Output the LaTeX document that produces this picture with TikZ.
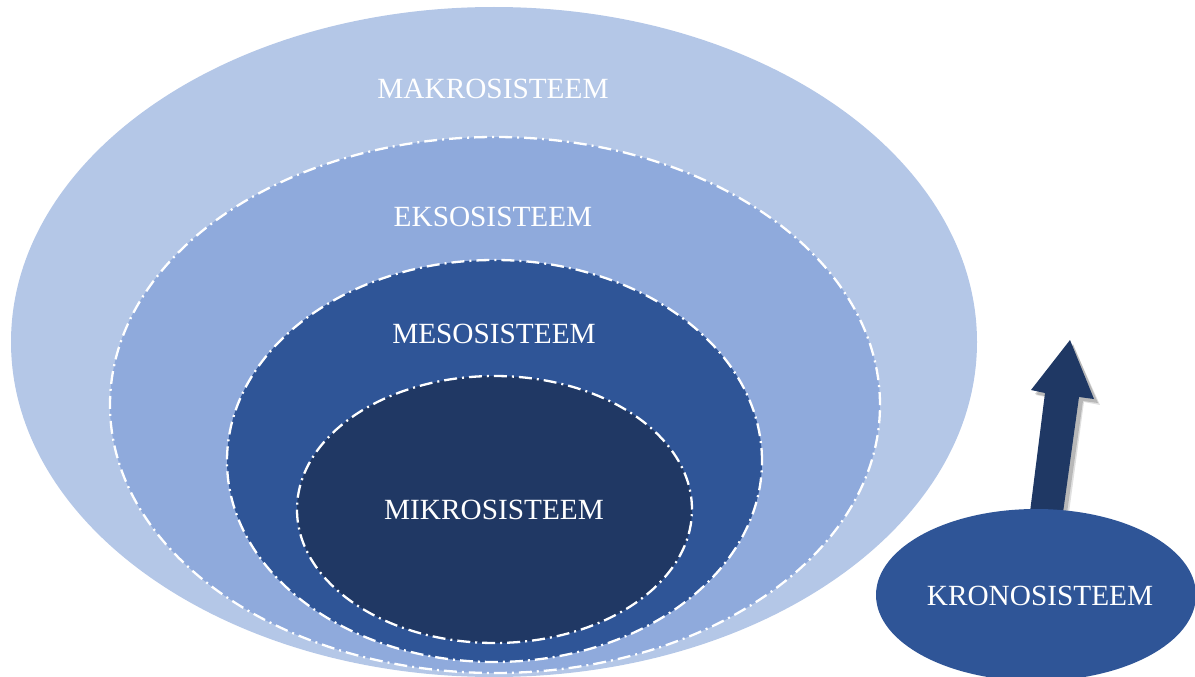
\documentclass[tikz,border=0pt]{standalone}
\usepackage{fontspec}
\setmainfont{Liberation Serif}
\usetikzlibrary{shapes.geometric}
\definecolor{cMakro}{HTML}{B4C7E7}
\definecolor{cEkso}{HTML}{8FAADC}
\definecolor{cMeso}{HTML}{2F5597}
\definecolor{cMikro}{HTML}{203864}
\definecolor{cArrow}{HTML}{1F3864}
\tikzset{
  ring/.style={ellipse, inner sep=0pt, draw=none},
  ringline/.style={draw=white, line width=2.3pt, dash pattern=on 13pt off 5pt on 2pt off 5pt},
  lbl/.style={text=white, font=\fontsize{29.3}{31}\selectfont, inner sep=0pt, anchor=center}
}
\begin{document}
\begin{tikzpicture}[x=1pt, y=-1pt]
\useasboundingbox (0,0) rectangle (1195,677);
\clip (0,0) rectangle (1195,677);
% rings
\node[ring, fill=cMakro, minimum width=966pt, minimum height=670pt] (makro) at (494,342) {};
\node[ring, fill=cEkso, ringline, minimum width=770pt, minimum height=536pt] (ekso) at (495,405) {};
\node[ring, fill=cMeso, ringline, minimum width=535pt, minimum height=402pt] (meso) at (494.5,461) {};
\node[ring, fill=cMikro, ringline, minimum width=395pt, minimum height=267pt] (mikro) at (494.5,509.5) {};
% labels
\node[lbl] (tmakro) at (493,89) {MAKROSISTEEM};
\node[lbl] (tekso) at (493,217) {EKSOSISTEEM};
\node[lbl] (tmeso) at (494,334) {MESOSISTEEM};
\node[lbl] (tmikro) at (494,510) {MIKROSISTEEM};
% arrow shadow
\fill[black, opacity=0.18] (1033,520) -- (1049,397) -- (1035,394) -- (1073,344) -- (1098,403) -- (1083,401) -- (1066,520) -- cycle;
\fill[black, opacity=0.12] (1034,520) -- (1050,398) -- (1036,395) -- (1073,345) -- (1100,405) -- (1084,402) -- (1068,520) -- cycle;
% arrow
\fill[cArrow] (1029,520) -- (1045,393) -- (1031,390) -- (1070,340) -- (1094,399) -- (1079,397) -- (1062,520) -- cycle;
% krono
\node[ring, fill=cMeso, minimum width=320pt, minimum height=172pt] (krono) at (1036,595) {};
\node[lbl] (tkrono) at (1040,596) {KRONOSISTEEM};
\end{tikzpicture}
\end{document}
